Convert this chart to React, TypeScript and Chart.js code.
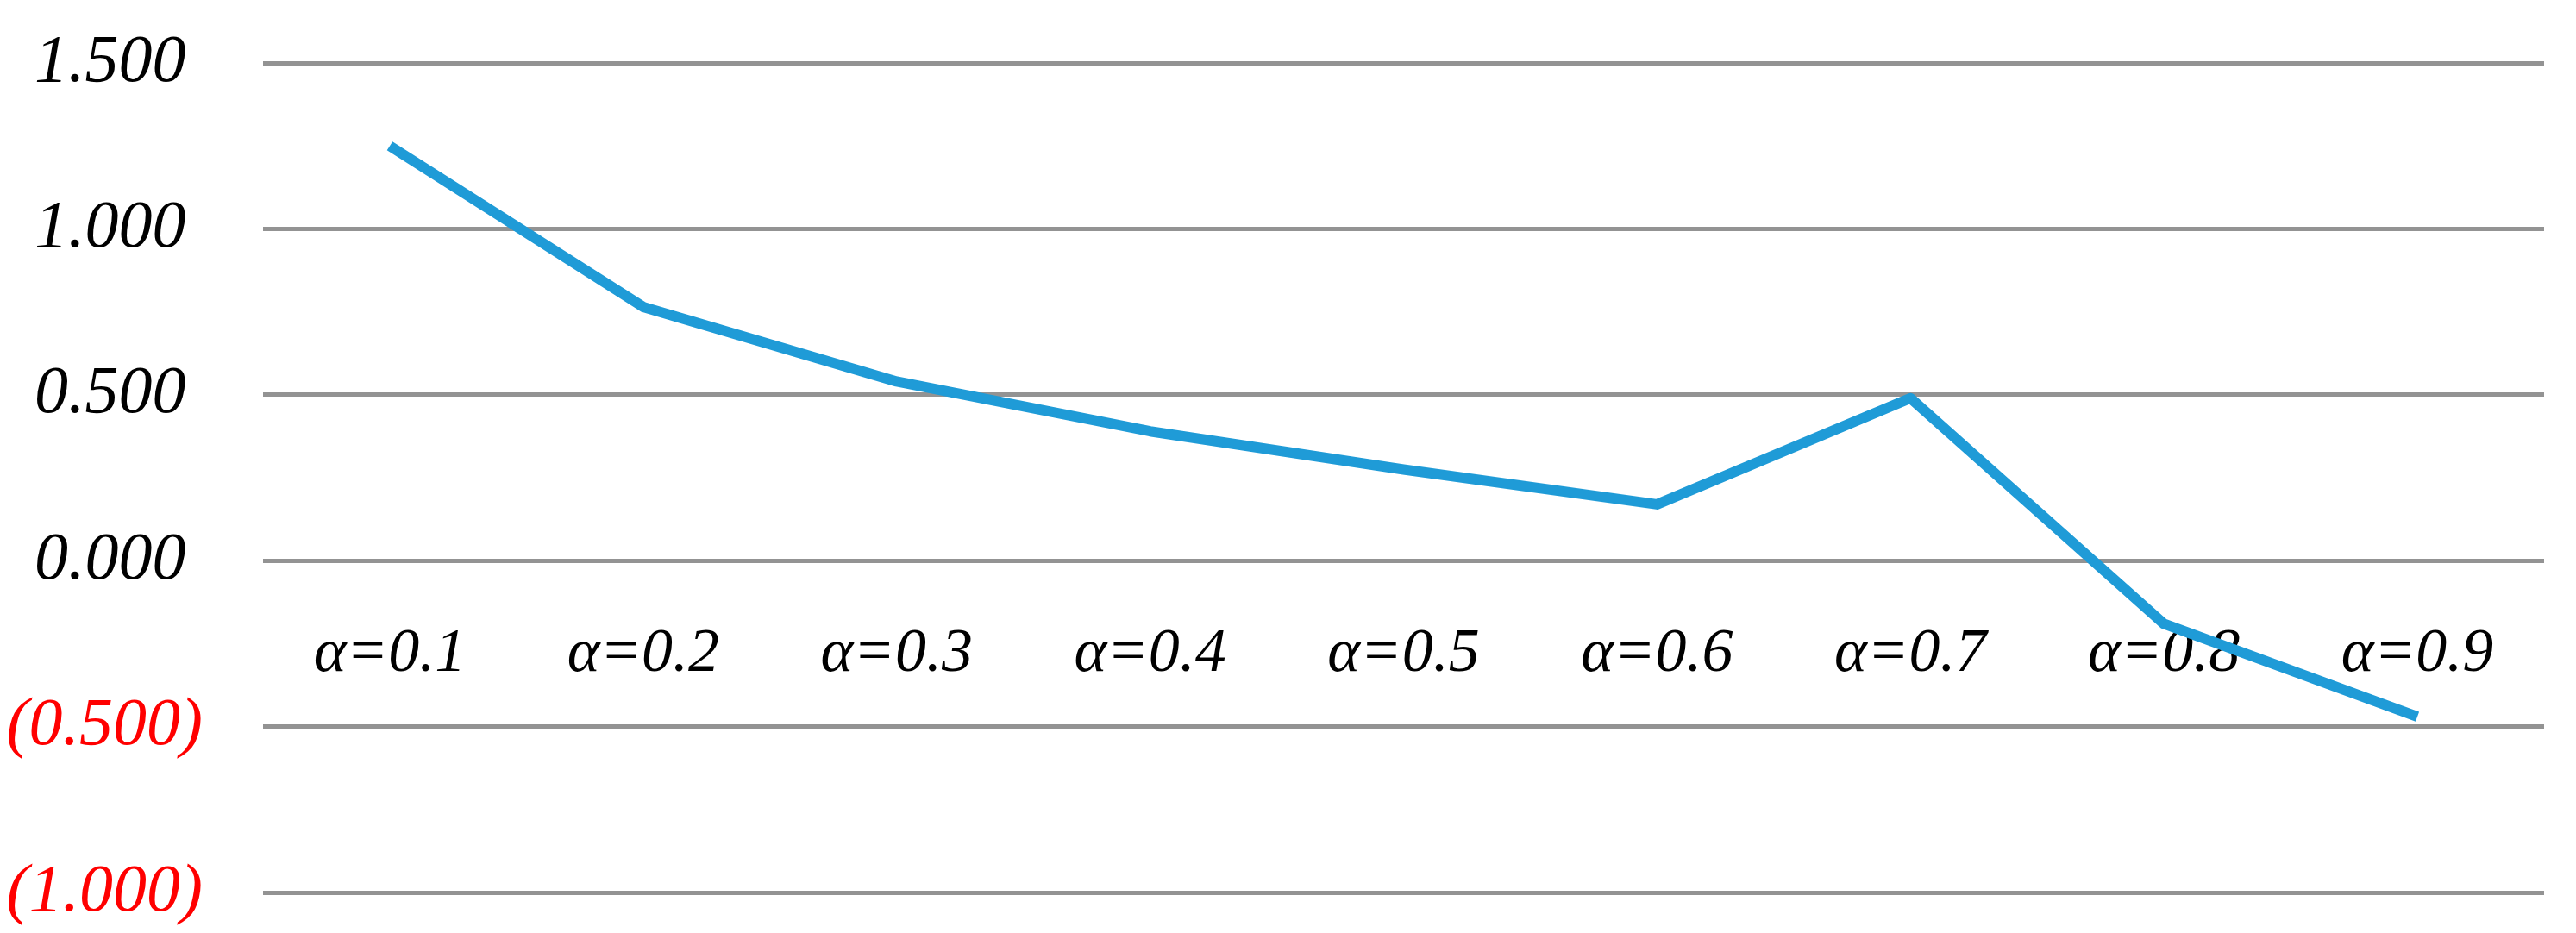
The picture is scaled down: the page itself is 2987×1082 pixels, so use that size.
import React, { useEffect, useRef } from "react";
import { Chart, registerables } from "chart.js";

Chart.register(...registerables);

const categories: string[] = [
  "α=0.1",
  "α=0.2",
  "α=0.3",
  "α=0.4",
  "α=0.5",
  "α=0.6",
  "α=0.7",
  "α=0.8",
  "α=0.9",
];

const seriesValues: number[] = [1.25, 0.765, 0.54, 0.39, 0.275, 0.17, 0.49, -0.19, -0.47];

const yMin = -1.0;
const yMax = 1.5;
const yStep = 0.5;

function formatTick(v: number): string {
  if (v < 0) return "(" + Math.abs(v).toFixed(3) + ")";
  return v.toFixed(3) + " ";
}

export default function App() {
  const canvasRef = useRef<HTMLCanvasElement | null>(null);

  useEffect(() => {
    const canvas = canvasRef.current;
    if (!canvas) return;
    const chart = new Chart(canvas, {
      type: "line",
      data: {
        labels: categories,
        datasets: [
          {
            data: seriesValues,
            borderColor: "#1f9bd7",
            backgroundColor: "#1f9bd7",
            borderWidth: 12,
            pointRadius: 0,
            pointHoverRadius: 0,
            tension: 0,
            borderCapStyle: "butt",
            borderJoinStyle: "round",
            fill: false,
          },
        ],
      },
      options: {
        animation: false,
        responsive: true,
        maintainAspectRatio: false,
        devicePixelRatio: 1,
        layout: {
          padding: { top: 73, bottom: 42, right: 37, left: 0 },
        },
        plugins: {
          legend: { display: false },
          tooltip: { enabled: false },
          title: { display: false },
        },
        scales: {
          x: {
            type: "category",
            position: { y: 0 } as any,
            offset: true,
            grid: {
              display: true,
              drawOnChartArea: false,
              drawTicks: true,
              tickLength: 66,
              tickColor: "rgba(0,0,0,0)",
            },
            border: { display: false },
            afterFit: (scale: any) => {
              scale.height = 0;
            },
            ticks: {
              color: "#000000",
              padding: 0,
              maxRotation: 0,
              minRotation: 0,
              autoSkip: false,
              font: { family: "'Liberation Serif'", size: 72, style: "italic" },
            },
          },
          y: {
            type: "linear",
            min: yMin,
            max: yMax,
            afterFit: (scale: any) => {
              scale.width = 305;
            },
            grid: {
              color: "#939393",
              lineWidth: 5,
              drawTicks: true,
              tickLength: 70,
              tickColor: "rgba(0,0,0,0)",
            },
            border: { display: false },
            ticks: {
              stepSize: yStep,
              padding: 0,
              color: (ctx: any) => (ctx.tick && ctx.tick.value < 0 ? "#ff0000" : "#000000"),
              font: { family: "'Liberation Serif'", size: 78, style: "italic" },
              callback: (value: any) => formatTick(Number(value)),
            },
          },
        },
      },
    });
    return () => {
      chart.destroy();
    };
  }, []);

  return (
    <div
      style={{
        position: "absolute",
        left: 0,
        top: 0,
        width: "2987px",
        height: "1082px",
        background: "#ffffff",
      }}
    >
      <canvas ref={canvasRef} />
    </div>
  );
}
